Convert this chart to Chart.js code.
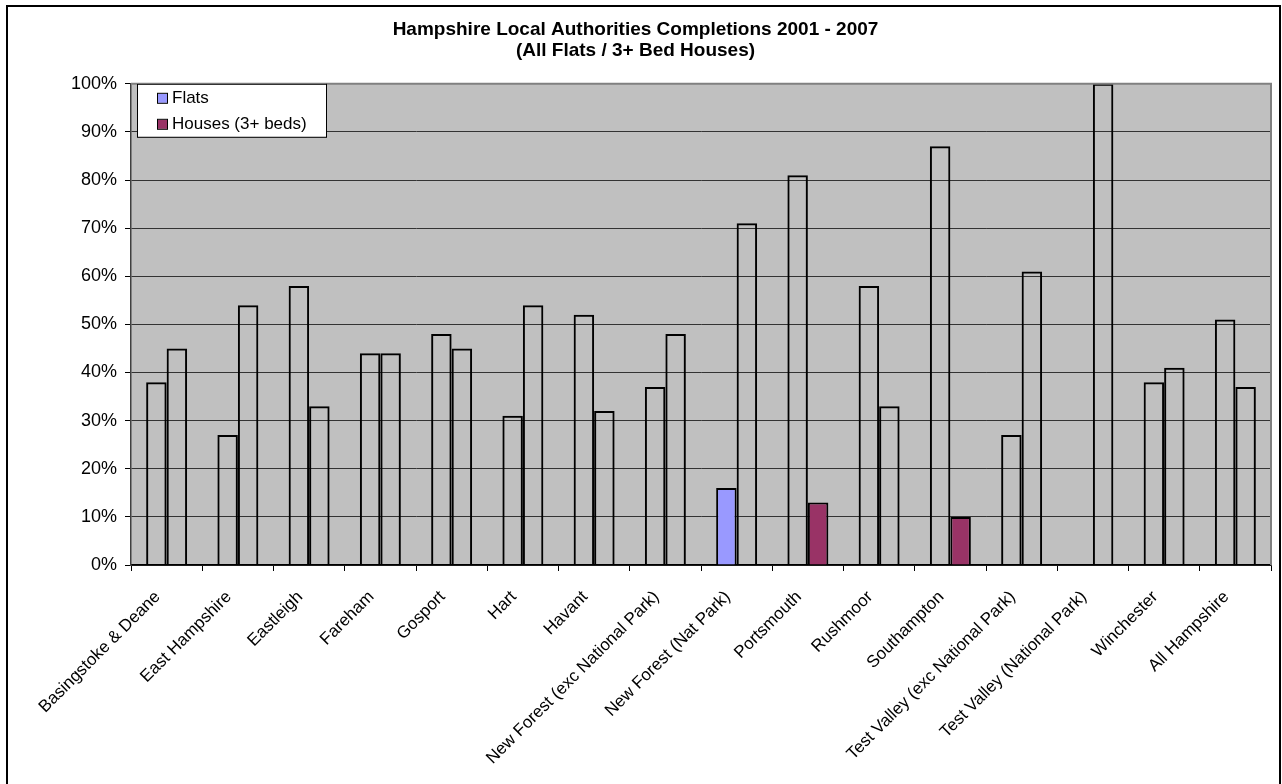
<!DOCTYPE html>
<html>
<head>
<meta charset="utf-8">
<title>Hampshire Local Authorities Completions 2001 - 2007</title>
<script src="https://cdn.jsdelivr.net/npm/chart.js@4.4.1/dist/chart.umd.min.js"></script>
<style>
  html, body { margin: 0; padding: 0; background: #fff; }
  #wrap { position: relative; width: 1282px; height: 784px; }
</style>
</head>
<body>
<div id="wrap"><canvas id="chart" width="1282" height="784"></canvas></div>
<script>
// Share of completions, per authority (percent)
const authorities = [
  'Basingstoke & Deane', 'East Hampshire', 'Eastleigh', 'Fareham', 'Gosport',
  'Hart', 'Havant', 'New Forest (exc National Park)', 'New Forest (Nat Park)',
  'Portsmouth', 'Rushmoor', 'Southampton', 'Test Valley (exc National Park)',
  'Test Valley (National Park)', 'Winchester', 'All Hampshire'
];
const flats  = [38, 27, 58, 44, 48, 31, 52, 37, 16, 81, 58, 87, 27, 0, 38, 51];
const houses = [45, 54, 33, 44, 45, 54, 32, 48, 71, 13, 33, 10, 61, 100, 41, 37];
const yTicks = [0, 10, 20, 30, 40, 50, 60, 70, 80, 90, 100];

const FLATS_COLOUR = '#9999FF';
const HOUSES_COLOUR = '#993366';
const NONE = 'rgba(0,0,0,0)';

// only a few bars carry a fill, the rest are outlines
const flatsFill = flats.map((v, i) => i === 8 ? FLATS_COLOUR : NONE);
const housesFill = houses.map((v, i) => (i === 9 || i === 11) ? HOUSES_COLOUR : NONE);

const FONT = "'Liberation Sans', Arial, sans-serif";

// white page, outer frame and grey plot background
const frame = {
  id: 'frame',
  beforeDraw(chart) {
    const { ctx, chartArea: a } = chart;
    ctx.save();
    ctx.fillStyle = '#fff';
    ctx.fillRect(0, 0, chart.width, chart.height);
    ctx.strokeStyle = '#000';
    ctx.lineWidth = 2;
    ctx.strokeRect(7, 6, 1273, 800);
    ctx.fillStyle = '#C0C0C0';
    ctx.fillRect(a.left, a.top, a.right - a.left, a.bottom - a.top);
    ctx.restore();
  },
  afterDatasetsDraw(chart) {
    const { ctx, chartArea: a } = chart;
    ctx.save();
    ctx.strokeStyle = '#808080';
    ctx.lineWidth = 2;
    ctx.beginPath();
    ctx.moveTo(a.left, a.top);
    ctx.lineTo(a.right, a.top);
    ctx.lineTo(a.right, a.bottom);
    ctx.stroke();
    ctx.restore();
  }
};

// legend box sitting inside the plot, top-left
const boxLegend = {
  id: 'boxLegend',
  afterDraw(chart) {
    const { ctx, chartArea: a } = chart;
    const x = a.left + 6, y = a.top;
    ctx.save();
    ctx.fillStyle = '#fff';
    ctx.fillRect(x, y, 189, 53);
    ctx.strokeStyle = '#000';
    ctx.lineWidth = 1;
    ctx.strokeRect(x + 0.5, y + 0.5, 189, 53);
    ctx.font = '17px ' + FONT;
    ctx.textBaseline = 'middle';
    chart.data.datasets.forEach((ds, i) => {
      const cy = y + 14 + i * 26;
      ctx.fillStyle = ds.legendColour;
      ctx.fillRect(x + 21, cy - 4, 9, 9);
      ctx.strokeRect(x + 20.5, cy - 4.5, 10, 10);
      ctx.fillStyle = '#000';
      ctx.fillText(ds.label, x + 35, cy + 1);
    });
    ctx.restore();
  }
};

new Chart(document.getElementById('chart'), {
  type: 'bar',
  data: {
    labels: authorities,
    datasets: [
      {
        label: 'Flats',
        data: flats,
        backgroundColor: flatsFill,
        legendColour: FLATS_COLOUR,
        borderColor: '#000',
        borderWidth: 2,
      },
      {
        label: 'Houses (3+ beds)',
        data: houses,
        backgroundColor: housesFill,
        legendColour: HOUSES_COLOUR,
        borderColor: '#000',
        borderWidth: 2,
      },
    ],
  },
  options: {
    responsive: false,
    animation: false,
    layout: { padding: { top: 0, left: 0, right: 11, bottom: 0 } },
    datasets: {
      bar: { categoryPercentage: 0.575, barPercentage: 1.0 }
    },
    scales: {
      x: {
        afterFit(scale) { scale.height = 219; },
        grid: {
          offset: true,
          drawOnChartArea: false,
          tickLength: 6,
          tickColor: '#000',
        },
        border: { color: '#000', width: 1.5 },
        ticks: {
          autoSkip: false,
          minRotation: 45,
          maxRotation: 45,
          padding: 16,
          labelOffset: -9,
          color: '#000',
          font: { family: FONT, size: 17 },
        },
      },
      y: {
        min: 0,
        max: 100,
        afterFit(scale) { scale.width = 131; },
        afterBuildTicks(scale) { scale.ticks = yTicks.map(v => ({ value: v })); },
        grid: {
          color: '#333',
          lineWidth: 1,
          tickLength: 6,
          tickColor: '#000',
        },
        border: { color: '#404040', width: 1.5 },
        ticks: {
          padding: 8,
          color: '#000',
          font: { family: FONT, size: 18 },
          callback: v => v + '%',
        },
      },
    },
    plugins: {
      legend: { display: false },
      tooltip: { enabled: false },
      title: {
        display: true,
        text: ['Hampshire Local Authorities Completions 2001 - 2007', '(All Flats / 3+ Bed Houses)'],
        color: '#000',
        font: { family: FONT, size: 19, weight: 'bold', lineHeight: 1.1 },
        padding: { top: 19, bottom: 23 },
      },
    },
  },
  plugins: [frame, boxLegend],
});
</script>
</body>
</html>
